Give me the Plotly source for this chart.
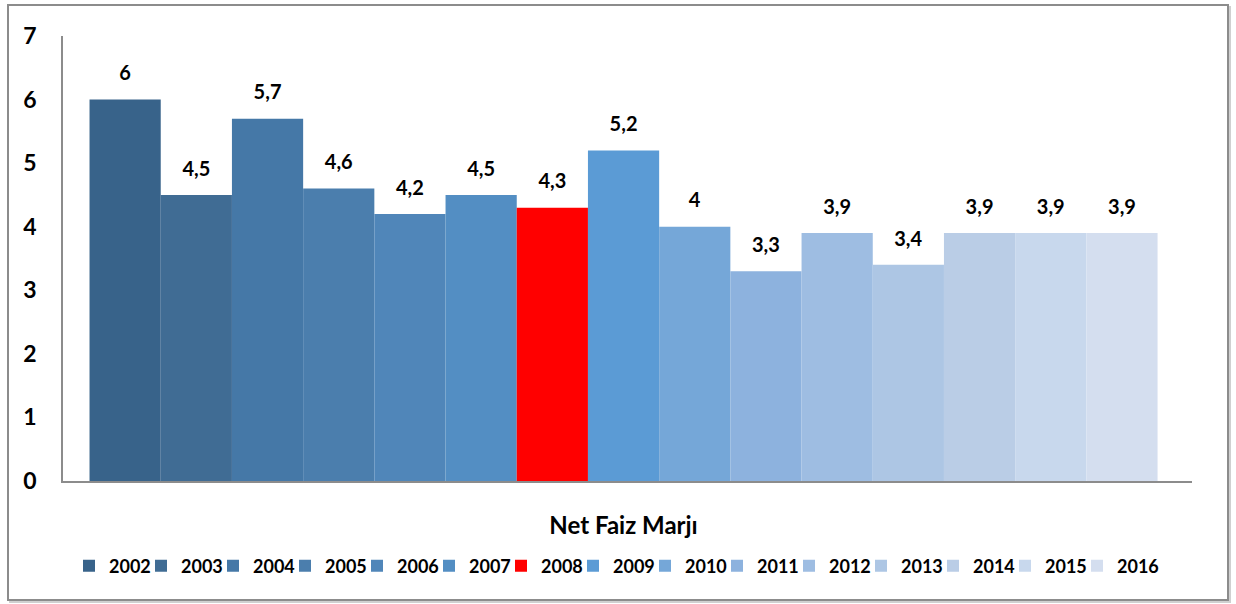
import plotly.graph_objects as go

category = ["Net Faiz Marjı"]
years = ["2002", "2003", "2004", "2005", "2006", "2007", "2008", "2009",
         "2010", "2011", "2012", "2013", "2014", "2015", "2016"]
values = [6, 4.5, 5.7, 4.6, 4.2, 4.5, 4.3, 5.2, 4, 3.3, 3.9, 3.4, 3.9, 3.9, 3.9]
colors = ["#38638A", "#406C94", "#4578A7", "#4B7EAD", "#5086B9", "#538EC3",
          "#FF0000", "#5B9BD5", "#75A7D8", "#8DB2DE", "#9EBDE2", "#ADC6E4",
          "#BACDE6", "#C8D8ED", "#D4DEEF"]

FONT = "Lato"

L, R, T, B = 63, 44, 36, 123
W, H = 1236, 604
pw, ph = W - L - R, H - T - B


def px(x):
    return (x - L) / pw


def py(y):
    return (H - B - y) / ph


fig = go.Figure()
legends = {}
for i, (yr, v, c) in enumerate(zip(years, values, colors)):
    lbl = ("%g" % v).replace(".", ",")
    lid = "legend" if i == 0 else "legend%d" % (i + 1)
    fig.add_trace(go.Bar(
        x=category, y=[v], name=yr, legend=lid,
        marker=dict(color=c, line=dict(width=0)),
        text=["<span style='font-size:20px'>" + lbl + "</span><br> "],
        textposition="outside", constraintext="none",
        textfont=dict(family=FONT, size=11, color="black", weight="bold"),
        cliponaxis=False, hoverinfo="name+y",
    ))
    legends[lid] = dict(
        orientation="h", x=px(69 + i * 72), xanchor="left",
        y=py(566), yanchor="middle", itemwidth=30,
        font=dict(family=FONT, size=18, color="black", weight="bold"),
        bgcolor="rgba(0,0,0,0)",
    )

fig.update_layout(
    width=W, height=H,
    margin=dict(l=L, r=R, t=T, b=B, autoexpand=False),
    barmode="group", bargap=0.054, bargroupgap=0,
    plot_bgcolor="white", paper_bgcolor="white",
    showlegend=True,
    xaxis=dict(range=[-0.4965, 0.5035], showline=True, linecolor="#8C8C8C",
               linewidth=1.5, ticks="",
               tickfont=dict(family=FONT, size=24, color="black", weight="bold"),
               ticklabelstandoff=22, showgrid=False, zeroline=False),
    yaxis=dict(range=[0, 7], dtick=1, showline=True, linecolor="#8C8C8C", linewidth=1.5,
               ticks="", showgrid=False, zeroline=False,
               tickfont=dict(family=FONT, size=23, color="black", weight="bold"),
               ticklabelstandoff=20),
    shapes=[
        dict(type="rect", xref="paper", yref="paper",
             x0=px(10), x1=px(1230), y0=py(602), y1=py(7),
             line=dict(color="#D0D0D0", width=2), layer="below"),
        dict(type="rect", xref="paper", yref="paper",
             x0=px(8), x1=px(1228), y0=py(600), y1=py(5),
             line=dict(color="#8C8C8C", width=2), fillcolor="white", layer="below"),
    ],
    **legends,
)

fig.write_html("out.html", config={"displayModeBar": False},
               post_script="document.body.style.margin='0';")
